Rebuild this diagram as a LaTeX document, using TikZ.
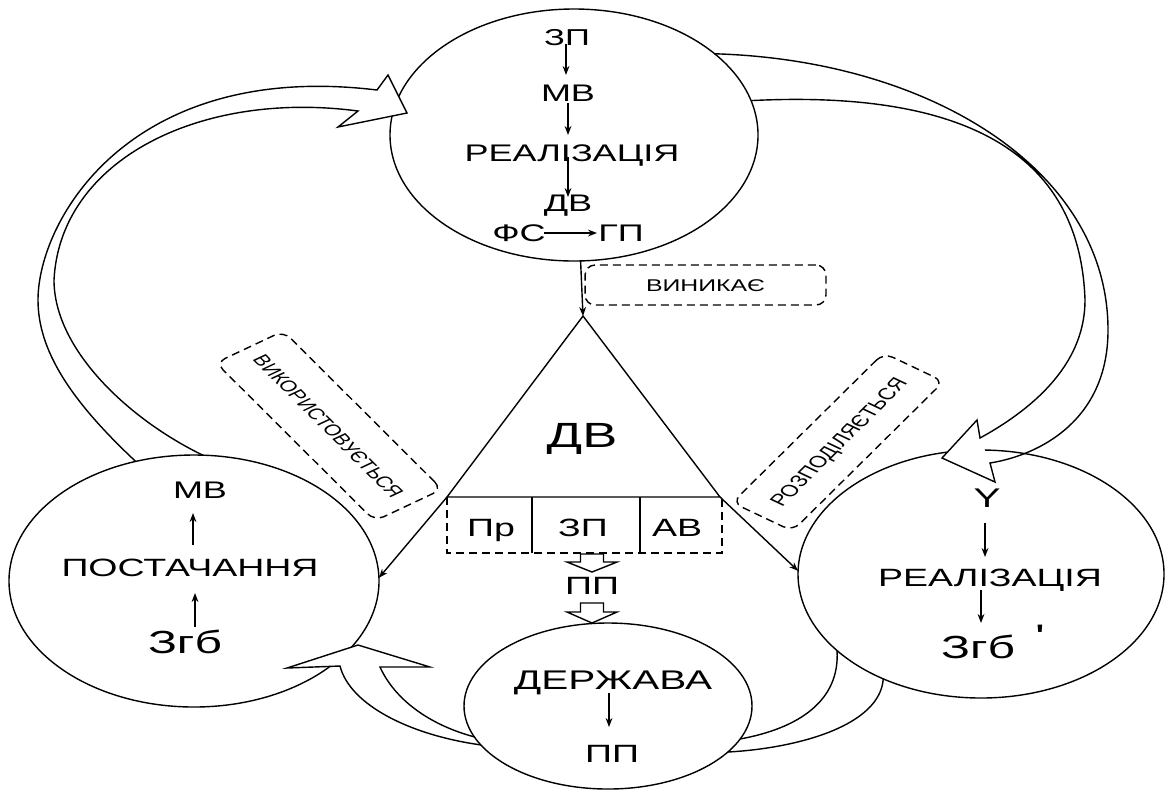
\documentclass[tikz,border=0pt]{standalone}
\usepackage{fontspec}
\setmainfont{Liberation Sans}
\newfontfamily\qfont[Ligatures=TeXOff]{Liberation Sans}
\usetikzlibrary{shapes.geometric,arrows.meta,calc}
\newcommand{\fsz}[1]{\fontsize{#1}{#1}\selectfont}
\begin{document}
\begin{tikzpicture}[x=0.5pt, y=-0.5pt, line width=0.7pt, line join=miter,
  ell/.style={ellipse, draw, inner sep=0pt, outer sep=0pt},
  arr/.style={-{Stealth[length=4.5pt,width=3.4pt]}},
  lab/.style={inner sep=0pt, outer sep=0pt, xscale=1.5, text depth=0pt},
  s115/.style={lab, font=\fsz{11.5}, text height=8.2pt},
  s12/.style={lab, font=\fsz{12}, text height=8.6pt},
  s125/.style={lab, font=\fsz{12.5}, text height=9pt},
  s135/.style={lab, font=\fsz{13.5}, text height=9.7pt},
  s16/.style={lab, font=\fsz{16}, text height=11.5pt},
  s175/.style={lab, font=\fsz{17.5}, text height=12.5pt},
  dsh/.style={dash pattern=on 4pt off 2.5pt},
  tag/.style={draw, dsh, rounded corners=5pt, inner sep=0pt, xscale=1.46, text height=6pt, text depth=0pt},
]
\useasboundingbox (0,0) rectangle (1165,789);

% ellipses
\node[ell, minimum width=184pt, minimum height=126pt] (topE) at (574,135) {};
\node[ell, minimum width=185pt, minimum height=126pt] (leftE) at (194,581) {};
\node[ell, minimum width=183pt, minimum height=124pt] (rightE) at (981,574) {};
\node[ell, minimum width=144pt, minimum height=83pt] (stateE) at (608,706) {};

% top ellipse contents
\node[s115] (zp1) at (567,37) {ЗП};
\node[s12] (mv1) at (568,93) {МВ};
\node[s12] (re1) at (572,153) {РЕАЛІЗАЦІЯ};
\node[s12] (dv1) at (568,203) {ДВ};
\node[s12] (fs) at (519,233) {ФС};
\node[s12] (gp) at (621,233) {ГП};
\draw[arr] ($(zp1)+(-1,7)$) -- ($(mv1)+(-2,-18)$);
\draw[arr] ($(mv1)+(0,10)$) -- ($(re1)+(-4,-18)$);
\draw[arr] ($(re1)+(-4,4)$) -- ($(dv1)+(0,-6)$);
\draw[arr] ($(fs)+(25,0)$) -- ($(gp)+(-24,0)$);

% triangle
\coordinate (apex) at (583,316);
\coordinate (bl) at (447,497);
\coordinate (br) at (720,497);
\draw[dsh] (447,497) -- (447,553) -- (722,553) -- (722,497);
\draw (532,497) -- (532,553) (640,497) -- (640,553);
\draw (apex) -- (bl) -- (br) -- cycle;
\node[s175] (dvb) at (582,435) {ДВ};
\node[s125] (pr) at (491,527) {Пр};
\node[s125] (zp2) at (583,527) {ЗП};
\node[s125] (av) at (677,527) {АВ};
\node[s125] (pp1) at (592,585) {ПП};
\draw (580.5,554) -- (580.5,562) -- (567,562) -- (592,572) -- (617,562) -- (603.5,562) -- (603.5,554) -- cycle;
\draw (580.5,603) -- (580.5,612) -- (567,612) -- (592,623) -- (617,612) -- (603.5,612) -- (603.5,603) -- cycle;

\draw[arr] (topE.273.6) -- (apex);
\draw[arr] (bl) -- (leftE.1.9);
\draw[arr] (br) -- (rightE.179.7);

% tags
\node[tag, font=\fsz{8.5}, minimum width=82.5pt, minimum height=20pt] (vyn) at (705.5,285) {ВИНИКАЄ};
\node[tag, font=\fsz{7.8}, rotate=-55.5, minimum width=96pt, minimum height=28pt] (vyk) at (329,426) {ВИКОРИСТОВУЄТЬСЯ};
\node[tag, font=\fsz{8.2}, rotate=55.3, minimum width=91pt, minimum height=25pt] (roz) at (838,442) {РОЗПОДІЛЯЄТЬСЯ};

% left ellipse contents
\node[s12] (lm) at (200,490) {МВ};
\node[s125] (lp) at (190,567) {ПОСТАЧАННЯ};
\node[s16] (lz) at (185,642) {Згб};
\draw[arr] ($(lz)+(10,-15)$) -- ($(lp)+(5,26)$);
\draw[arr] ($(lp)+(3,-22)$) -- ($(lm)+(-7,23)$);

% right ellipse contents
\node[s135] (ry) at (987,498) {Y};
\node[s125] (rr) at (990,577) {РЕАЛІЗАЦІЯ};
\node[s16] (rz) at (978,647) {Згб};
\node[lab, font=\qfont\fsz{17}, anchor=north] (prm) at (1040,625) {'};
\draw[arr] ($(ry)+(-2,25)$) -- ($(rr)+(-5,-20)$);
\draw[arr] ($(rr)+(-9,13)$) -- ($(rz)+(3,-24)$);

% state ellipse contents
\node[s135] (sd) at (613,680) {ДЕРЖАВА};
\node[s125] (sp) at (612,753) {ПП};
\draw[arr] ($(sd)+(-4,13)$) -- ($(sp)+(-3,-26)$);

% big hollow arrows
\fill[white] (377,90) -- (388,75) -- (407,113) -- (338,127) -- (358,111) -- cycle;
\draw (leftE.116.8) .. controls (70,400) and (38,350) .. (38,300)
  .. controls (38,220) and (130,60) .. (377,90) -- (388,75) -- (407,113) -- (338,127) -- (358,111)
  .. controls (200,90) and (60,160) .. (54,280)
  .. controls (54,350) and (130,420) .. (leftE.86.4);

\fill[white] (980,438) -- (977,420) -- (942,458) -- (995,482) -- (990,463) -- cycle;
\draw (topE.30.85) .. controls (930,60) and (1108,170) .. (1108,330)
  .. controls (1108,420) and (1040,455) .. (990,463) -- (995,482) -- (942,458) -- (977,420) -- (980,438)
  .. controls (1040,405) and (1085,360) .. (1085,300)
  .. controls (1080,150) and (960,90) .. (topE.11.25);

\fill[white] (340,666) -- (287,668) -- (358,645) -- (430,667) -- (380,667) -- cycle;
\draw (stateE.197.1) .. controls (410,735) and (350,705) .. (340,666) -- (287,668) -- (358,645) -- (430,667) -- (380,667)
  .. controls (395,700) and (430,725) .. (stateE.193.5);
\draw (rightE.208.6) .. controls (840,700) and (800,728) .. (stateE.346.5);
\draw (rightE.227.2) .. controls (880,725) and (800,748) .. (stateE.339);
\end{tikzpicture}
\end{document}
